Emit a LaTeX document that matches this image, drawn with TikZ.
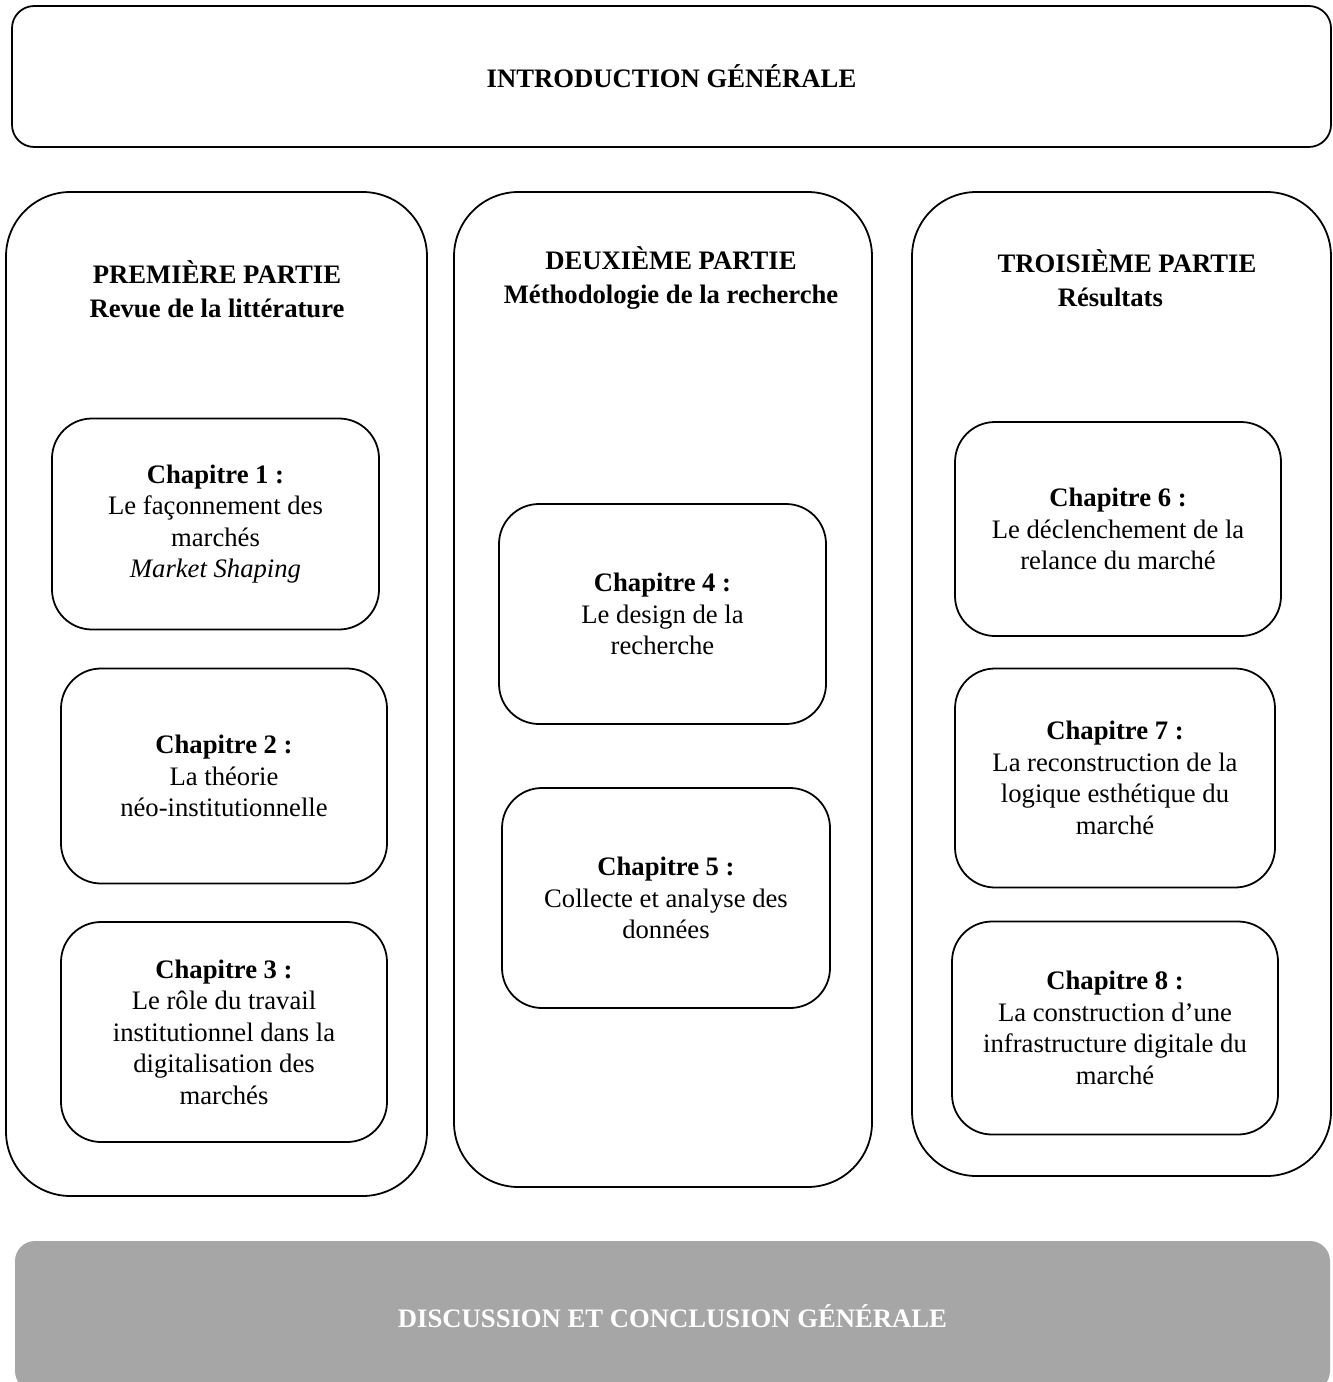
\documentclass[tikz,border=0pt]{standalone}
\usepackage{fontspec}
\setmainfont{Liberation Serif}
\usetikzlibrary{positioning}

\newcommand{\px}{0.45pt}
\definecolor{conclgray}{HTML}{A6A6A6}

\tikzset{
  introbox/.style={draw, line width=0.8pt, rounded corners=10pt, inner sep=0pt},
  partbox/.style={draw, line width=0.8pt, rounded corners=29pt, inner sep=0pt},
  chapbox/.style={draw, line width=0.8pt, rounded corners=18pt, inner sep=0pt, align=center},
  parttitle/.style={align=center, inner sep=0pt, font=\fontsize{12}{15.3}\selectfont\bfseries},
}

\begin{document}
\begin{tikzpicture}[x=\px, y=-\px, font=\fontsize{12}{14.2}\selectfont]
  \useasboundingbox (0,0) rectangle (1333,1382);
  \clip (0,0) rectangle (1333,1382);

  % introduction
  \node[introbox, minimum width=1319*\px, minimum height=141*\px] (intro) at (671.5,76.5)
    {\textbf{INTRODUCTION GÉNÉRALE}};

  % the three parts
  \node[partbox, minimum width=421*\px, minimum height=1004*\px] (p1) at (216.5,694) {};
  \node[partbox, minimum width=418*\px, minimum height=995*\px] (p2) at (663,689.5) {};
  \node[partbox, minimum width=419*\px, minimum height=984*\px] (p3) at (1121.5,684) {};

  \node[parttitle] (t1) at (217,289) {PREMIÈRE PARTIE\\Revue de la littérature};
  \node[parttitle] (t2) at (671,278) {DEUXIÈME PARTIE\\Méthodologie de la recherche};
  \node[parttitle] (t3) at (1127,278) {TROISIÈME PARTIE\\Résultats\hspace*{15pt}};

  % chapters
  \foreach \n/\cx/\cy/\w/\h/\txt in {
      1/215.5/524/327/211/{Le façonnement des\\marchés\\\textit{Market Shaping}},
      2/224/776/326/215/{La théorie\\néo-institutionnelle},
      3/224/1032/326/220/{Le rôle du travail\\institutionnel dans la\\digitalisation des\\marchés},
      4/662.5/614/327/220/{Le design de la\\recherche},
      5/666/898/328/220/{Collecte et analyse des\\données},
      6/1118/529/326/214/{Le déclenchement de la\\relance du marché},
      7/1115/778/320/219/{La reconstruction de la\\logique esthétique du\\marché},
      8/1115/1028/326/213/{La construction d’une\\infrastructure digitale du\\marché}}
    \node[chapbox, minimum width=\w*\px, minimum height=\h*\px] (ch\n) at (\cx,\cy)
      {\textbf{Chapitre \n\ :}\\\txt};

  % conclusion
  \node[fill=conclgray, rounded corners=9pt, inner sep=0pt, text=white,
        minimum width=1315*\px, minimum height=150*\px] (concl) at (672.5,1316)
    {\textbf{DISCUSSION ET CONCLUSION GÉNÉRALE}};
\end{tikzpicture}
\end{document}
